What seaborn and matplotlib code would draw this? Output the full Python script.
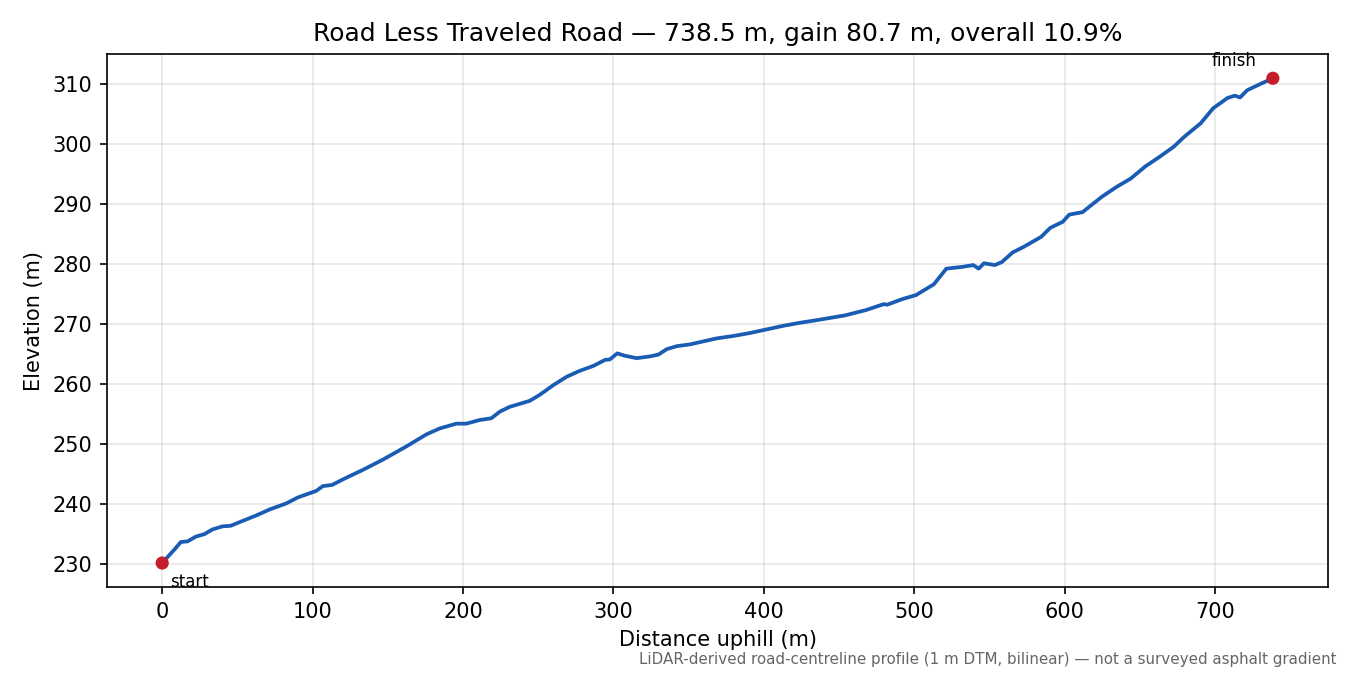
import matplotlib
matplotlib.use("Agg")
import matplotlib.pyplot as plt
import seaborn as sns

# profile (distance along road, elevation)
dist = [0, 4.7, 8.7, 12.4, 16.9, 22.4, 28, 33.5, 40.1, 45.6, 53.4, 62.4, 71.3,
        82.3, 90.1, 97.9, 102.4, 106.8, 113, 120, 133.4, 146.7, 162.3, 175.6,
        184.5, 195.6, 202.2, 211, 218.9, 224.5, 231.1, 237.8, 244.4, 251.1, 260,
        268.9, 277.7, 286.6, 294.4, 297.7, 302.6, 307.7, 315.5, 324.4, 330,
        335.5, 342.2, 351, 359.9, 368.8, 379.9, 391, 402.1, 413.2, 424.3, 434.5,
        453.6, 467.9, 479.8, 482.1, 491.7, 501.2, 513.1, 521.4, 532.1, 539.3,
        542.9, 546.4, 553.6, 558.3, 565.5, 572.6, 584.5, 590.5, 598.8, 603.1,
        611.9, 617.9, 625, 634.5, 644, 653.6, 663.1, 672.6, 679.8, 690.5, 698.8,
        708.3, 713.1, 716.7, 721.4, 729.8, 738.5]
elev = [230.2, 231.5, 232.6, 233.7, 233.8, 234.6, 235.0, 235.8, 236.3, 236.4,
        237.2, 238.1, 239.1, 240.1, 241.1, 241.8, 242.2, 243.0, 243.2, 244.1,
        245.7, 247.4, 249.6, 251.6, 252.6, 253.4, 253.4, 254.0, 254.3, 255.4,
        256.2, 256.7, 257.2, 258.2, 259.8, 261.2, 262.2, 263.0, 264.0, 264.1,
        265.1, 264.7, 264.3, 264.6, 264.9, 265.8, 266.3, 266.6, 267.1, 267.6,
        268.0, 268.5, 269.1, 269.7, 270.2, 270.6, 271.4, 272.3, 273.3, 273.2,
        274.1, 274.8, 276.6, 279.2, 279.5, 279.8, 279.2, 280.1, 279.8, 280.3,
        281.9, 282.8, 284.5, 286.0, 287.0, 288.2, 288.6, 289.8, 291.2, 292.8,
        294.2, 296.2, 297.8, 299.5, 301.2, 303.4, 305.9, 307.6, 308.0, 307.7,
        308.9, 309.9, 310.9]
end_labels = ["start", "finish"]

title = "Road Less Traveled Road \u2014 738.5 m, gain 80.7 m, overall 10.9%"
note = ("LiDAR-derived road-centreline profile (1 m DTM, bilinear) "
        "\u2014 not a surveyed asphalt gradient")

fig, ax = plt.subplots(figsize=(9, 4.5), dpi=150)

sns.lineplot(x=dist, y=elev, ax=ax, color="#1a5cb4", linewidth=1.8, sort=False)
ends_x = [dist[0], dist[-1]]
ends_y = [elev[0], elev[-1]]
sns.scatterplot(x=ends_x, y=ends_y, ax=ax, color="#c41e2a", s=40,
                edgecolor="none", zorder=5)

ax.annotate(end_labels[0], (ends_x[0], ends_y[0]), xytext=(4, -5),
            textcoords="offset points", ha="left", va="top", fontsize=8)
ax.annotate(end_labels[1], (ends_x[1], ends_y[1]), xytext=(-8, 4),
            textcoords="offset points", ha="right", va="bottom", fontsize=8)

ax.grid(True, alpha=0.3)
ax.set_title(title, fontsize=12)
ax.set_xlabel("Distance uphill (m)")
ax.set_ylabel("Elevation (m)")

fig.subplots_adjust(left=0.079, right=0.984, top=0.92, bottom=0.13)
fig.text(0.99, 0.012, note, ha="right", va="bottom", fontsize=7.25, color="#666666")

plt.savefig("out.png", dpi=150)
